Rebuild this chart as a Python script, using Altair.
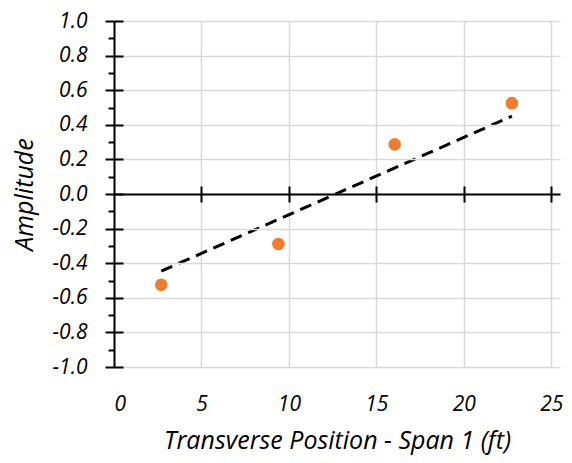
import altair as alt
import pandas as pd

x_pos = [2.7, 9.4, 16.05, 22.75]
amplitude = [-0.525, -0.289, 0.287, 0.525]
trend_x = [2.7, 22.75]
trend_y = [-0.446, 0.45]
x_ticks = [0, 5, 10, 15, 20, 25]
y_major = [-1.0, -0.8, -0.6, -0.4, -0.2, 0.0, 0.2, 0.4, 0.6, 0.8, 1.0]
y_minor = [-0.9, -0.7, -0.5, -0.3, -0.1, 0.1, 0.3, 0.5, 0.7, 0.9]

pts = pd.DataFrame({"x": x_pos, "y": amplitude})
trend = pd.DataFrame({"x": trend_x, "y": trend_y})

W, H = 446, 346
FONT = "Open Sans"
xs = alt.Scale(domain=[0, 25.5], nice=False, zero=False)
ys = alt.Scale(domain=[-1, 1], nice=False, zero=False)

lbl = dict(labelFont=FONT, labelFontSize=21, labelFontStyle="italic", labelColor="black")
ttl = dict(titleFont=FONT, titleFontSize=25, titleFontStyle="italic",
           titleFontWeight="normal", titleColor="black", titleBaseline="middle")

label_expr = "(datum.value < 0 ? '-' : '') + format(abs(datum.value), '.1f')"

main = alt.Chart(pts).mark_circle(size=160, opacity=1, color="#ED7D31").encode(
    x=alt.X("x:Q", scale=xs, axis=alt.Axis(
        orient="bottom", values=x_ticks, grid=True, gridColor="#d9d9d9", gridWidth=1.5,
        domain=False, ticks=False, labelPadding=26, format="d",
        title="Transverse Position - Span 1 (ft)", titleX=W / 2, titleY=73,
        titleAnchor="middle", **lbl, **ttl)),
    y=alt.Y("y:Q", scale=ys, axis=alt.Axis(
        orient="left", values=y_major, grid=True, gridColor="#d9d9d9", gridWidth=1.5,
        domain=True, domainColor="black", domainWidth=2,
        ticks=True, tickColor="black", tickWidth=2, tickSize=9,
        labelPadding=18, labelExpr=label_expr, zindex=1,
        title="Amplitude", titleX=-90, titleY=H / 2, **lbl, **ttl)),
)

line = alt.Chart(trend).mark_line(color="black", strokeWidth=3, strokeDash=[12, 7]).encode(
    x=alt.X("x:Q", scale=xs, axis=None),
    y=alt.Y("y:Q", scale=ys, axis=None),
)

def ghost(xaxis, yaxis):
    return alt.Chart(pts).mark_circle(opacity=0).encode(
        x=alt.X("x:Q", scale=xs, axis=xaxis),
        y=alt.Y("y:Q", scale=ys, axis=yaxis),
    )

x_down = ghost(alt.Axis(orient="bottom", offset=-H / 2, values=x_ticks[1:], grid=False,
                        domain=True, domainColor="black", domainWidth=2,
                        ticks=True, tickColor="black", tickWidth=2, tickSize=8,
                        labels=False, title=None, zindex=1), None)
x_up = ghost(alt.Axis(orient="top", offset=-H / 2, values=x_ticks[1:], grid=False,
                      domain=False, ticks=True, tickColor="black", tickWidth=2, tickSize=8,
                      labels=False, title=None, zindex=1), None)
y_right = ghost(None, alt.Axis(orient="right", offset=-W, values=y_major, grid=False,
                               domain=False, ticks=True, tickColor="black", tickWidth=2,
                               tickSize=9, labels=False, title=None, zindex=1))
y_minor_ax = ghost(None, alt.Axis(orient="left", values=y_minor, grid=False,
                                  domain=False, ticks=True, tickColor="black", tickWidth=2,
                                  tickSize=6, labels=False, title=None, zindex=1))

chart = alt.layer(main, line, x_down, x_up, y_right, y_minor_ax).resolve_axis(
    x="independent", y="independent"
).properties(
    width=W, height=H,
    padding={"left": 106, "top": 13, "right": 4, "bottom": 94},
    autosize=alt.AutoSizeParams(type="none"),
    background="white",
).configure_view(stroke=None)

chart.save("out.html", embed_options={"renderer": "svg", "actions": False})
